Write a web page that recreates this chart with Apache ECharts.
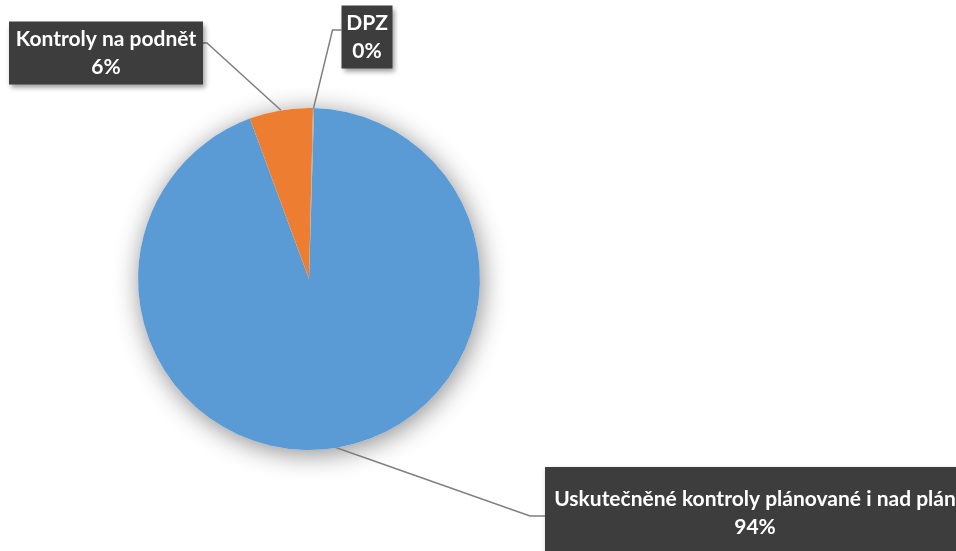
<!DOCTYPE html>
<html>
<head>
<meta charset="utf-8">
<script src="https://cdn.jsdelivr.net/npm/echarts@6/dist/echarts.min.js"></script>
<style>
html,body{margin:0;padding:0;background:#fff;}
#chart{width:956px;height:551px;}
</style>
</head>
<body>
<div id="chart"></div>
<script>
// ---- data ----
const categories = ['Uskutečněné kontroly plánované i nad plán', 'Kontroly na podnět', 'DPZ'];
const values = [94, 6, 0.1];
const colors = ['#5B9BD5', '#ED7D31', '#A5A5A5'];

// ---- label layout (styles/positions only) ----
const labelBoxes = [
  { cx: 755, cy: 513, w: 404, pad: [17, 8, 19, 8], lineDy: 3, bend: 15 },
  { cx: 106, cy: 53, w: 180, pad: [6, 7, 1, 7], lineDy: -10, bend: 4 },
  { cx: 367, cy: 37, w: 37, pad: [6, 7, 1, 7], lineDy: -7, bend: 9 }
];

const total = values.reduce((a, b) => a + b, 0);

const data = categories.map((name, i) => ({
  name: name,
  value: values[i],
  itemStyle: { color: colors[i] },
  label: {
    width: labelBoxes[i].w,
    padding: labelBoxes[i].pad
  }
}));

const chart = echarts.init(document.getElementById('chart'), null, { renderer: 'canvas' });

chart.setOption({
  animation: false,
  backgroundColor: '#ffffff',
  series: [
    {
      type: 'pie',
      silent: true,
      center: [309, 279],
      radius: [0, 171],
      startAngle: 88.3,
      z: 1,
      label: { show: false },
      labelLine: { show: false },
      itemStyle: {
        color: '#ffffff',
        shadowBlur: 26,
        shadowColor: 'rgba(0,0,0,0.45)',
        shadowOffsetX: 2,
        shadowOffsetY: 4
      },
      data: [{ value: total, name: 'shadow' }]
    },
    {
      type: 'pie',
      center: [309, 279],
      radius: [0, 171],
      startAngle: 88.3,
      clockwise: true,
      z: 2,
      avoidLabelOverlap: false,
      percentPrecision: 0,
      itemStyle: { borderWidth: 0 },
      label: {
        show: true,
        position: 'outside',
        formatter: '{b}\n{d}%',
        color: '#ffffff',
        fontFamily: 'Lato',
        fontWeight: 'bold',
        fontSize: 21,
        lineHeight: 28,
        align: 'center',
        backgroundColor: '#3d3d3d',
        shadowBlur: 5,
        shadowColor: 'rgba(0,0,0,0.4)',
        shadowOffsetX: 2,
        shadowOffsetY: 3,
        textShadowBlur: 0,
        overflow: 'none'
      },
      labelLine: {
        show: true,
        lineStyle: { color: '#7F7F7F', width: 1.5 }
      },
      labelLayout: function (params) {
        const b = labelBoxes[params.dataIndex];
        const anchor = params.labelLinePoints ? params.labelLinePoints[0] : null;
        const halfW = (b.w + b.pad[1] + b.pad[3]) / 2;
        const ly = b.cy + b.lineDy;
        let pts;
        if (anchor) {
          if (anchor[0] < b.cx - halfW) {
            const ex = b.cx - halfW;
            pts = [anchor, [ex - b.bend, ly], [ex, ly]];
          } else {
            const ex = b.cx + halfW;
            pts = [anchor, [ex + b.bend, ly], [ex, ly]];
          }
        }
        return {
          x: b.cx,
          y: b.cy,
          align: 'center',
          verticalAlign: 'middle',
          labelLinePoints: pts
        };
      },
      data: data
    }
  ]
});
</script>
</body>
</html>
